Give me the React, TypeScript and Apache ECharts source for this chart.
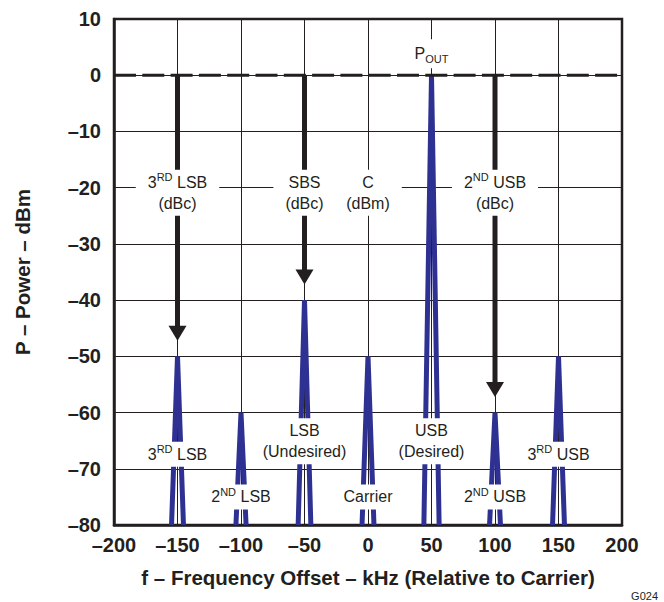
import React, { useEffect, useRef } from 'react';
import * as echarts from 'echarts';

// Spectrum components (kHz offset relative to carrier, power in dBm)
const spikeFreq = [-150, -100, -50, 0, 50, 100, 150];
const spikePower = [-50, -60, -40, -50, 0, -60, -50];
const spikeHalfWidth = [4.7, 4, 5, 4.7, 6, 4.3, 4.7];
const floorPower = -80;
const referencePower = 0;

// Arrows from the reference level down to these components
const arrowFreq = [-150, -50, 100];

// Upper (measurement) labels
const upperLabelFreq = [-150, -50, 0, 100];
const upperLabelPower = [-20.9, -20.9, -20.9, -20.9];
const upperLabelText = [
  '{n|3}{s|RD}{n| LSB}\n{n|(dBc)}',
  '{n|SBS}\n{n|(dBc)}',
  '{n|C}\n{n|(dBm)}',
  '{n|2}{s|ND}{n| USB}\n{n|(dBc)}',
];

// Lower (component) labels
const lowerLabelFreq = [-150, -100, -50, 0, 50, 100, 150];
const lowerLabelPower = [-67.4, -75, -65.1, -75, -65.1, -75, -67.4];
const lowerLabelText = [
  '{n|3}{s|RD}{n| LSB}',
  '{n|2}{s|ND}{n| LSB}',
  '{n|LSB}\n{n|(Undesired)}',
  '{n|Carrier}',
  '{n|USB}\n{n|(Desired)}',
  '{n|2}{s|ND}{n| USB}',
  '{n|3}{s|RD}{n| USB}',
];

const poutFreq = 50;
const poutPower = 3.8;
const poutText = '{n|P}{b|OUT}';

const xMin = -200, xMax = 200, xStep = 50;
const yMin = -80, yMax = 10, yStep = 10;

const INK = '#231f20';
const BLUE = '#2e3192';
const FONT = '"Liberation Sans", Arial, Helvetica, sans-serif';

const rich = {
  n: { fontSize: 16, lineHeight: 21, color: INK, fontFamily: FONT },
  s: { fontSize: 11, lineHeight: 15, verticalAlign: 'top', color: INK, fontFamily: FONT },
  b: { fontSize: 11, lineHeight: 15, verticalAlign: 'bottom', color: INK, fontFamily: FONT },
};

const dash = (v: number) => String(v).replace('-', '\u2013');

export default function App() {
  const ref = useRef<HTMLDivElement>(null);
  useEffect(() => {
    const chart = echarts.init(ref.current!, null, { renderer: 'svg' });

    const spikeSeries = spikeFreq.map((f, i) => ({
      type: 'line',
      data: [
        [f - spikeHalfWidth[i], floorPower],
        [f, spikePower[i]],
        [f + spikeHalfWidth[i], floorPower],
      ],
      symbol: 'none',
      lineStyle: { color: BLUE, width: 5 },
      z: 3,
      silent: true,
    }));

    const arrowPeak = arrowFreq.map((f) => spikePower[spikeFreq.indexOf(f)]);

    const shaftSeries = arrowFreq.map((f, i) => ({
      type: 'line',
      data: [
        [f, referencePower],
        [f, arrowPeak[i] + 4.8],
      ],
      symbol: 'none',
      lineStyle: { color: INK, width: 5, cap: 'butt' },
      z: 5,
      silent: true,
    }));

    const headSeries = {
      type: 'scatter',
      data: arrowFreq.map((f, i) => [f, arrowPeak[i] + 4.1]),
      symbol: 'triangle',
      symbolRotate: 180,
      symbolSize: [18, 15],
      itemStyle: { color: INK, opacity: 1 },
      z: 5,
      silent: true,
    };

    const referenceLine = {
      type: 'custom',
      data: [[xMin, referencePower, xMax]],
      z: 4,
      silent: true,
      renderItem: (_params: any, api: any) => {
        const p1 = api.coord([api.value(0), api.value(1)]);
        const p2 = api.coord([api.value(2), api.value(1)]);
        return {
          type: 'line',
          shape: { x1: p1[0], y1: p1[1], x2: p2[0], y2: p2[1] },
          style: { stroke: INK, lineWidth: 3, lineDash: [22, 6.3], fill: null },
        };
      },
    };

    const labelItem = (x: number, y: number, text: string, padding: number[]) => ({
      value: [x, y],
      label: { formatter: text, padding },
    });

    const labelSeries = {
      type: 'scatter',
      symbolSize: 1,
      itemStyle: { color: 'rgba(255,255,255,0)', opacity: 1 },
      z: 10,
      silent: true,
      label: {
        show: true,
        position: 'inside',
        backgroundColor: '#ffffff',
        opacity: 1,
        rich,
      },
      data: [
        ...upperLabelFreq.map((f, i) => labelItem(f, upperLabelPower[i], upperLabelText[i], [2, 12])),
        ...lowerLabelFreq.map((f, i) => labelItem(f, lowerLabelPower[i], lowerLabelText[i], [2, 3])),
        labelItem(poutFreq, poutPower, poutText, [4, 4]),
      ],
    };

    const tickLabel = {
      margin: 12,
      fontFamily: FONT,
      fontWeight: 'bold',
      fontSize: 20,
      color: INK,
      formatter: dash,
    };
    const titleStyle = { fontFamily: FONT, fontWeight: 'bold', fontSize: 20.5, color: INK };

    const option = {
      animation: false,
      backgroundColor: '#ffffff',
      grid: {
        left: 114,
        top: 19,
        right: 42,
        bottom: 77,
        show: true,
        borderColor: INK,
        borderWidth: 2.5,
        containLabel: false,
      },
      xAxis: {
        type: 'value',
        min: xMin,
        max: xMax,
        interval: xStep,
        name: 'f \u2013 Frequency Offset \u2013 kHz (Relative to Carrier)',
        nameLocation: 'middle',
        nameGap: 42,
        nameTextStyle: titleStyle,
        axisLine: { show: true, onZero: false, lineStyle: { color: INK, width: 2.5 } },
        axisTick: { show: false },
        axisLabel: { ...tickLabel, margin: 10 },
        splitLine: { show: true, lineStyle: { color: INK, width: 1 } },
      },
      yAxis: {
        type: 'value',
        min: yMin,
        max: yMax,
        interval: yStep,
        name: 'P \u2013 Power \u2013 dBm',
        nameLocation: 'middle',
        nameGap: 81,
        nameTextStyle: titleStyle,
        axisLine: { show: true, onZero: false, lineStyle: { color: INK, width: 2.5 } },
        axisTick: { show: false },
        axisLabel: { ...tickLabel, margin: 13 },
        splitLine: { show: true, lineStyle: { color: INK, width: 1 } },
      },
      graphic: [
        {
          type: 'text',
          right: 6,
          bottom: 1,
          style: { text: 'G024', fontFamily: FONT, fontSize: 11, fill: INK },
        },
      ],
      series: [
        ...spikeSeries,
        referenceLine,
        ...shaftSeries,
        headSeries,
        labelSeries,
      ],
    };

    chart.setOption(option as any);
    return () => chart.dispose();
  }, []);

  return (
    <div
      ref={ref}
      style={{ position: 'fixed', left: 0, top: 0, width: 664, height: 602, background: '#fff' }}
    />
  );
}
